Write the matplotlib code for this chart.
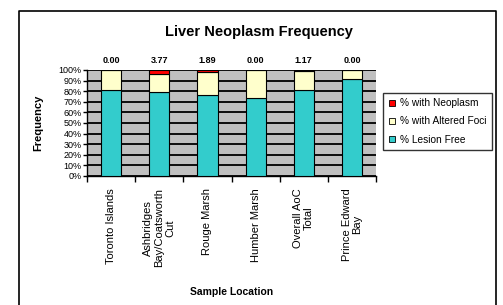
import matplotlib.pyplot as plt
from matplotlib.lines import Line2D
import numpy as np

plt.rcParams['font.family'] = ['Liberation Sans', 'DejaVu Sans']

locations = ["Toronto Islands", "Ashbridges\nBay/Coatsworth\nCut", "Rouge Marsh",
             "Humber Marsh", "Overall AoC\nTotal", "Prince Edward\nBay"]
lesion_free = [81.5, 79.0, 76.5, 74.0, 81.5, 91.5]
neoplasm = [0.00, 3.77, 1.89, 0.00, 1.17, 0.00]
altered_foci = [100 - lf - n for lf, n in zip(lesion_free, neoplasm)]

teal = '#33CCCC'
yellow = '#FFFFCC'
red = '#FF0000'

fig = plt.figure(figsize=(5.03, 3.05), dpi=100)
ax = fig.add_axes([0.173, 0.423, 0.5746, 0.3475])

x = np.arange(len(locations))
w = 0.42
ax.set_facecolor('#C0C0C0')
ax.bar(x, lesion_free, w, color=teal, edgecolor='black', linewidth=0.8, label='%Lesion Free', zorder=3)
ax.bar(x, altered_foci, w, bottom=lesion_free, color=yellow, edgecolor='black', linewidth=0.8,
       label='% with Altered Foci', zorder=3)
bottom2 = [a + b for a, b in zip(lesion_free, altered_foci)]
ax.bar(x, neoplasm, w, bottom=bottom2, color=red, edgecolor='black', linewidth=0.8,
       label='% with Neoplasm', zorder=3)

for xi, n in zip(x, neoplasm):
    ax.text(xi, 105, f"{n:.2f}", ha='center', va='bottom', fontsize=6.5, fontweight='bold')

ax.set_xlim(-0.5, len(locations) - 0.5)
ax.set_ylim(0, 100)
yt = np.arange(0, 101, 10)
ax.set_yticks(yt)
ax.set_yticklabels([f"{v}%" for v in yt], fontsize=6.5)
ax.yaxis.grid(True, color='black', linewidth=1.3, zorder=1)
ax.set_axisbelow(True)

ax.set_xticks(x)
ax.set_xticklabels(locations, rotation=90, fontsize=8, va='top', ha='center',
                   multialignment='center', linespacing=1.1)
ax.set_xticks(np.arange(-0.5, len(locations)), minor=True)
ax.tick_params(axis='x', which='major', length=0, pad=9)
ax.tick_params(axis='x', which='minor', length=4, direction='out', width=1)
ax.tick_params(axis='y', length=3, width=1, pad=1)
for s in ['top', 'right']:
    ax.spines[s].set_visible(False)
ax.spines['left'].set_linewidth(1)
ax.spines['bottom'].set_linewidth(1)

fig.text(0.515, 0.895, "Liver Neoplasm Frequency", ha='center', va='center', fontsize=10.5, fontweight='bold')
fig.text(0.076, 0.597, "Frequency", rotation=90, ha='center', va='center', fontsize=8, fontweight='bold')
fig.text(0.461, 0.043, "Sample Location", ha='center', va='center', fontsize=7.5, fontweight='bold')

handles = [
    Line2D([], [], marker='s', linestyle='none', markersize=4.5, markerfacecolor=red, markeredgecolor='black', markeredgewidth=0.6),
    Line2D([], [], marker='s', linestyle='none', markersize=4.5, markerfacecolor=yellow, markeredgecolor='black', markeredgewidth=0.6),
    Line2D([], [], marker='s', linestyle='none', markersize=4.5, markerfacecolor=teal, markeredgecolor='black', markeredgewidth=0.6),
]
leg = fig.legend(handles, ['% with Neoplasm', '% with Altered Foci', '% Lesion Free'],
                 loc='upper left', bbox_to_anchor=(0.761, 0.696), fontsize=7.3, frameon=True,
                 fancybox=False, edgecolor='black', handletextpad=0.3, handlelength=0.8,
                 borderpad=0.55, labelspacing=0.8, borderaxespad=0)
leg.get_frame().set_linewidth(1)

# outer chart frame
fx0, fx1, fy1 = 19 / 503, 496 / 503, 1 - 11 / 305
fig.add_artist(Line2D([fx0, fx0, fx1, fx1], [0, fy1, fy1, 0], color='black', linewidth=1.2,
                      transform=fig.transFigure))

fig.savefig("out.png", dpi=100)
